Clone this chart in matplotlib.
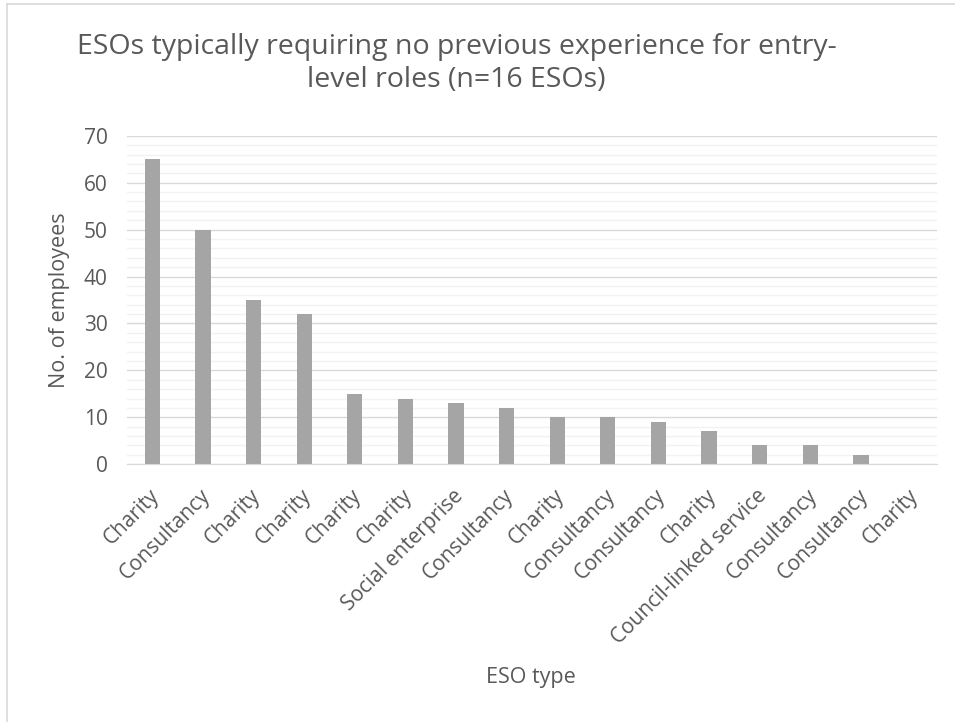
import matplotlib
matplotlib.use("Agg")
import matplotlib.pyplot as plt
from matplotlib.lines import Line2D
from matplotlib.ticker import MultipleLocator
from matplotlib.transforms import ScaledTranslation

categories = ["Charity", "Consultancy", "Charity", "Charity", "Charity", "Charity",
              "Social enterprise", "Consultancy", "Charity", "Consultancy", "Consultancy",
              "Charity", "Council-linked service", "Consultancy", "Consultancy", "Charity"]
employees = [65, 50, 35, 32, 15, 14, 13, 12, 10, 10, 9, 7, 4, 4, 2, 0]
y_ticks = [0, 10, 20, 30, 40, 50, 60, 70]

plt.rcParams["font.family"] = ["Open Sans", "DejaVu Sans"]
text_color = "#595959"

fig = plt.figure(figsize=(9.55, 7.22), dpi=100)
ax = fig.add_axes([0.133, 0.357, 0.848, 0.455])

x = list(range(len(categories)))
ax.bar(x, employees, width=0.3, color="#A5A5A5", zorder=3)

ax.set_xlim(-0.5, len(categories) - 0.5)
ax.set_ylim(0, 70)
ax.set_yticks(y_ticks)
ax.yaxis.set_minor_locator(MultipleLocator(2))
ax.grid(axis="y", which="major", color="#D9D9D9", linewidth=1.0, zorder=0)
ax.grid(axis="y", which="minor", color="#F2F2F2", linewidth=1.0, zorder=0)
ax.tick_params(axis="y", which="both", length=0, labelsize=15, labelcolor=text_color, pad=14)
ax.tick_params(axis="x", length=0, labelsize=15, labelcolor=text_color, pad=4)

ax.set_xticks(x)
ax.set_xticklabels(categories, rotation=45, ha="right", va="center", rotation_mode="anchor")
shift = ScaledTranslation(0.04, -0.23, fig.dpi_scale_trans)
for lbl in ax.get_xticklabels():
    lbl.set_transform(lbl.get_transform() + shift)

for side in ["top", "right", "left"]:
    ax.spines[side].set_visible(False)
ax.spines["bottom"].set_color("#D9D9D9")
ax.spines["bottom"].set_zorder(4)

ax.set_ylabel("No. of employees", fontsize=15.5, color=text_color)
ax.yaxis.set_label_coords(-0.071, 0.5)
fig.text(0.556, 0.061, "ESO type", fontsize=15.5, color=text_color, ha="center", va="center")

fig.text(0.478, 0.912,
         "ESOs typically requiring no previous experience for entry-\nlevel roles (n=16 ESOs)",
         fontsize=20.5, color=text_color, ha="center", va="center", linespacing=1.28)

# chart-area frame (only the top and left edges fall inside the canvas)
fig.add_artist(Line2D([0.007, 0.007], [0.0, 0.994], transform=fig.transFigure,
                      color="#D9D9D9", linewidth=1.2))
fig.add_artist(Line2D([0.007, 1.0], [0.994, 0.994], transform=fig.transFigure,
                      color="#D9D9D9", linewidth=1.2))

fig.savefig("out.png", dpi=100, facecolor="white")
